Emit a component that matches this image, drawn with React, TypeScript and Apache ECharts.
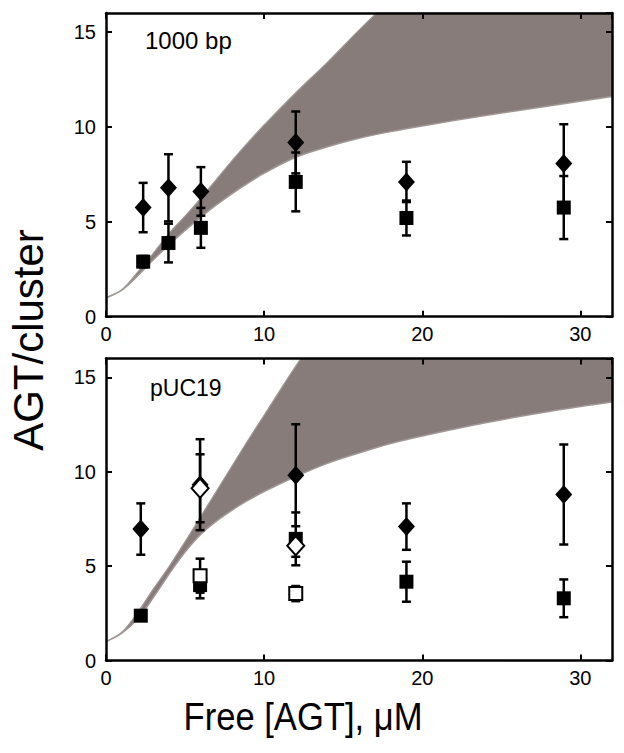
import React, { useEffect, useRef } from "react";
import * as echarts from "echarts";

// ---- Band (model range) ----
const bandX = [0, 1, 2, 3, 4, 5, 6, 7, 8, 9, 10, 12, 14, 16, 18, 20, 24, 28, 32];
const topLower = [1.0, 1.4, 2.15, 3.0, 3.8, 4.55, 5.25, 5.9, 6.5, 7.05, 7.56, 8.4, 8.95, 9.4, 9.75, 10.05, 10.6, 11.1, 11.6];
const topUpper = [1.0, 1.42, 2.35, 3.35, 4.4, 5.3, 6.25, 7.25, 8.25, 9.2, 10.1, 11.8, 13.4, 15.1, 16.7, 18.2, 20.7, 22.7, 24.2];
const botLower = [1.0, 1.45, 2.2, 3.35, 4.6, 5.75, 6.7, 7.4, 7.99, 8.5, 8.96, 9.75, 10.45, 11.0, 11.5, 11.9, 12.6, 13.2, 13.7];
const botUpper = [1.0, 1.5, 2.55, 3.8, 5.0, 6.3, 7.65, 9.0, 10.35, 11.7, 13.0, 15.6, 18.0, 20.0, 21.5, 22.5, 24.0, 25.0, 26.0];

// ---- Top panel: 1000 bp ----
const topX = [2.35, 3.95, 6, 12, 19, 28.95];
const topDiamondY = [5.75, 6.79, 6.6, 9.18, 7.1, 8.07];
const topDiamondErr = [1.3, 1.77, 1.28, 1.63, 1.06, 2.07];
const topSquareY = [2.9, 3.88, 4.68, 7.1, 5.2, 5.75];
const topSquareErr = [0.3, 1.02, 1.05, 1.55, 0.92, 1.66];

// ---- Bottom panel: pUC19 ----
const botX = [2.2, 5.95, 12, 19, 28.95];
const botDiamondY = [6.97, 9.32, 9.82, 7.1, 8.8];
const botDiamondErr = [1.36, 2.41, 2.7, 1.23, 2.65];
const botSquareY = [2.38, 4.0, 6.45, 4.18, 3.3];
const botSquareErr = [0.25, 0.7, 1.4, 1.06, 1.0];
const openX = [5.95, 12];
const openDiamondY = [9.13, 6.08];
const openDiamondErr = [1.8, 0.58];
const openSquareY = [4.5, 3.55];
const openSquareErr = [0.9, 0.4];

const xTicks = { min: 0, max: 32, interval: 10 };
const yTicks = { min: 0, max: 16, interval: 5 };
const panelLabels = ["1000 bp", "pUC19"];
const xTitle = "Free [AGT], \u03bcM";
const yTitle = "AGT/cluster";

const FONT = "Liberation Sans, Arial, Helvetica, sans-serif";
const BAND = "#877c7a";
const BAND_EDGE = "#a19896";

function zip(xs: number[], ys: number[]) {
  return xs.map((x, i) => [x, ys[i]]);
}
function zip3(xs: number[], ys: number[], es: number[]) {
  return xs.map((x, i) => [x, ys[i], es[i]]);
}

function errorBarSeries(data: number[][], gi: number) {
  return {
    type: "custom",
    xAxisIndex: gi * 2,
    yAxisIndex: gi * 2,
    z: 3,
    silent: true,
    encode: { x: 0, y: 1 },
    data,
    renderItem: (_params: any, api: any) => {
      const x = api.value(0);
      const y = api.value(1);
      const e = api.value(2);
      const t = api.coord([x, y + e]);
      const b = api.coord([x, y - e]);
      const cw = 4.5;
      const st = { stroke: "#000", lineWidth: 2.5 };
      return {
        type: "group",
        children: [
          { type: "line", shape: { x1: t[0], y1: t[1], x2: b[0], y2: b[1] }, style: st },
          { type: "line", shape: { x1: t[0] - cw, y1: t[1], x2: t[0] + cw, y2: t[1] }, style: st },
          { type: "line", shape: { x1: b[0] - cw, y1: b[1], x2: b[0] + cw, y2: b[1] }, style: st },
        ],
      };
    },
  };
}

// Band: the upper curve is filled down to the axis in the band colour,
// then the lower curve is filled down to the axis in white over it.
function bandSeries(lower: number[], upper: number[], gi: number) {
  return [
    {
      type: "line",
      xAxisIndex: gi * 2,
      yAxisIndex: gi * 2,
      data: zip(bandX, upper),
      symbol: "none",
      smooth: 0.35,
      lineStyle: { color: BAND_EDGE, width: 1.2 },
      areaStyle: { color: BAND, opacity: 1, origin: "start" },
      z: 1,
      silent: true,
    },
    {
      type: "line",
      xAxisIndex: gi * 2,
      yAxisIndex: gi * 2,
      data: zip(bandX, lower),
      symbol: "none",
      smooth: 0.35,
      lineStyle: { color: BAND_EDGE, width: 1.5 },
      areaStyle: { color: "#fff", opacity: 1, origin: "start" },
      z: 2,
      silent: true,
    },
  ];
}

function scatter(data: number[][], gi: number, symbol: string, size: any, open: boolean, z: number) {
  return {
    type: "scatter",
    xAxisIndex: gi * 2,
    yAxisIndex: gi * 2,
    data,
    symbol,
    symbolSize: size,
    z,
    silent: true,
    itemStyle: open
      ? { color: "#fff", borderColor: "#000", borderWidth: 2, opacity: 1 }
      : { color: "#000", borderColor: "#000", borderWidth: 0, opacity: 1 },
  };
}

const axisLine = { show: true, onZero: false, lineStyle: { color: "#000", width: 2.5 } };
const axisTick = { show: true, inside: true, length: 6, lineStyle: { color: "#000", width: 2 } };
const labelStyle = { color: "#000", fontSize: 20, fontFamily: FONT };

function xAxes(gi: number) {
  return [
    {
      type: "value",
      gridIndex: gi,
      position: "bottom",
      ...xTicks,
      axisLine,
      axisTick,
      axisLabel: { ...labelStyle, margin: 7, showMaxLabel: false },
      splitLine: { show: false },
      z: 10,
    },
    {
      type: "value",
      gridIndex: gi,
      position: "top",
      ...xTicks,
      axisLine,
      axisTick,
      axisLabel: { show: false },
      splitLine: { show: false },
      z: 10,
    },
  ];
}
function yAxes(gi: number) {
  return [
    {
      type: "value",
      gridIndex: gi,
      position: "left",
      ...yTicks,
      axisLine,
      axisTick,
      axisLabel: { ...labelStyle, margin: 10, showMaxLabel: false },
      splitLine: { show: false },
      z: 10,
    },
    {
      type: "value",
      gridIndex: gi,
      position: "right",
      ...yTicks,
      axisLine,
      axisTick,
      axisLabel: { show: false },
      splitLine: { show: false },
      z: 10,
    },
  ];
}

export default function App() {
  const ref = useRef<HTMLDivElement>(null);
  useEffect(() => {
    document.body.style.margin = "0";
    const chart = echarts.init(ref.current!, null, { renderer: "svg" });
    const diamondSize = [17, 19];
    const squareSize = 14;
    chart.setOption({
      animation: false,
      backgroundColor: "#fff",
      grid: [
        { left: 106, top: 13, width: 506, height: 303.7 },
        { left: 106, top: 358.6, width: 506, height: 302 },
      ],
      xAxis: [...xAxes(0), ...xAxes(1)],
      yAxis: [...yAxes(0), ...yAxes(1)],
      graphic: [
        {
          type: "text",
          x: 145,
          y: 40,
          style: { text: panelLabels[0], fill: "#000", font: `24px ${FONT}`, align: "left", verticalAlign: "middle", textAlign: "left", textVerticalAlign: "middle" },
          z: 20,
        },
        {
          type: "text",
          x: 150,
          y: 388,
          style: { text: panelLabels[1], fill: "#000", font: `23px ${FONT}`, align: "left", verticalAlign: "middle", textAlign: "left", textVerticalAlign: "middle" },
          z: 20,
        },
        {
          type: "text",
          x: 303,
          y: 717,
          scaleX: 0.91,
          style: { text: xTitle, fill: "#000", font: `38px ${FONT}`, align: "center", verticalAlign: "middle", textAlign: "center", textVerticalAlign: "middle" },
          z: 20,
        },
        {
          type: "text",
          x: 28,
          y: 340,
          rotation: Math.PI / 2,
          style: { text: yTitle, fill: "#000", font: `42px ${FONT}`, align: "center", verticalAlign: "middle", textAlign: "center", textVerticalAlign: "middle" },
          z: 20,
        },
      ],
      series: [
        ...bandSeries(topLower, topUpper, 0),
        ...bandSeries(botLower, botUpper, 1),
        errorBarSeries(zip3(topX, topDiamondY, topDiamondErr), 0),
        errorBarSeries(zip3(topX, topSquareY, topSquareErr), 0),
        errorBarSeries(zip3(botX, botDiamondY, botDiamondErr), 1),
        errorBarSeries(zip3(botX, botSquareY, botSquareErr), 1),
        errorBarSeries(zip3(openX, openDiamondY, openDiamondErr), 1),
        errorBarSeries(zip3(openX, openSquareY, openSquareErr), 1),
        scatter(zip(topX, topDiamondY), 0, "diamond", diamondSize, false, 4),
        scatter(zip(topX, topSquareY), 0, "rect", squareSize, false, 4),
        scatter(zip(botX, botDiamondY), 1, "diamond", diamondSize, false, 4),
        scatter(zip(botX, botSquareY), 1, "rect", squareSize, false, 4),
        scatter(zip(openX, openSquareY), 1, "rect", 13, true, 5),
        scatter(zip(openX, openDiamondY), 1, "diamond", diamondSize, true, 5),
      ],
    });
    return () => chart.dispose();
  }, []);
  return <div ref={ref} style={{ width: 624, height: 753 }} />;
}
